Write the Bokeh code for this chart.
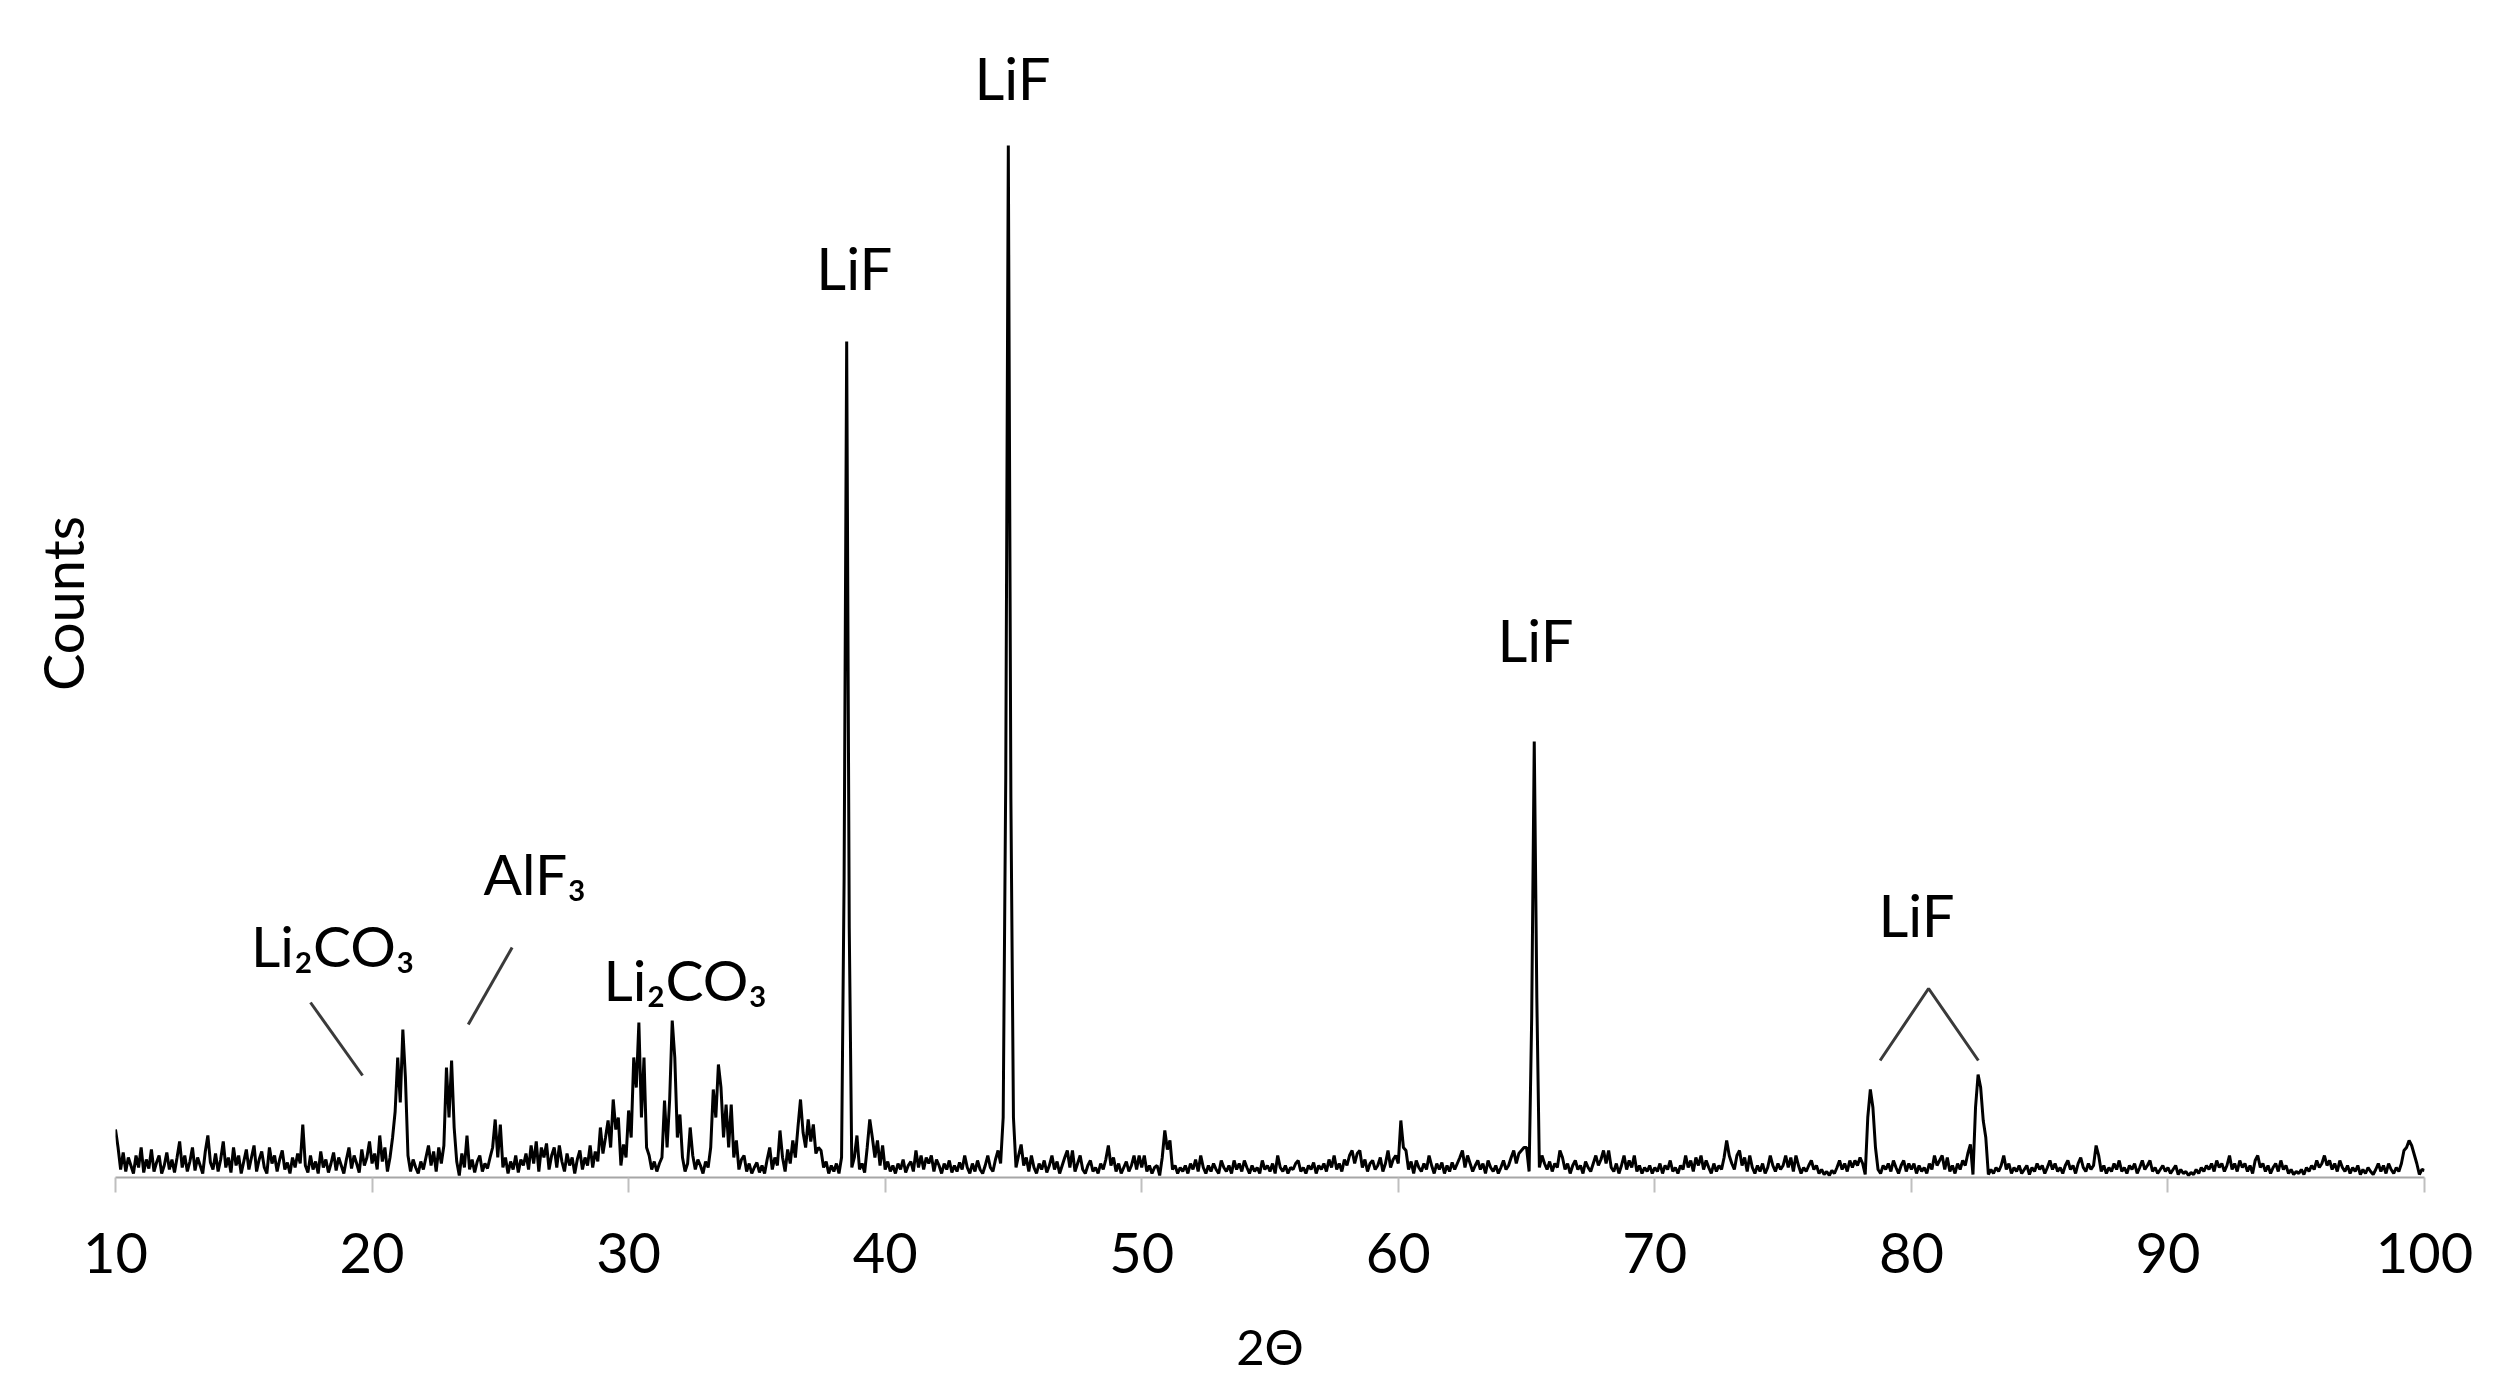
from bokeh.plotting import figure
from bokeh.models import FixedTicker
from bokeh.core.properties import value
from bokeh.embed import file_html
from bokeh.resources import INLINE

# ---- data: XRD pattern, 2-theta from 10.0 to 100.0 in steps of 0.1 deg ----
TWO_THETA_START = 10.0
TWO_THETA_STEP = 0.1

counts_10 = [48, 30, 8, 25, 6, 20, 12, 4, 22, 10,
             30, 5, 18, 9, 28, 6, 15, 22, 4, 12,
             25, 8, 18, 5, 20, 36, 10, 22, 6, 16,
             30, 7, 20, 12, 4, 26, 42, 15, 8, 24,
             6, 18, 36, 10, 20, 5, 30, 12, 22, 4,
             16, 28, 8, 20, 32, 6, 18, 26, 10, 4,
             30, 14, 22, 6, 18, 27, 8, 15, 4, 20,
             10, 24, 14, 53, 12, 5, 22, 8, 16, 4,
             26, 10, 18, 5, 14, 25, 7, 20, 12, 4,
             18, 30, 9, 22, 14, 5, 28, 12, 20, 36]
counts_20 = [14, 24, 8, 42, 16, 30, 6, 20, 40, 66,
             120, 75, 148, 100, 22, 6, 18, 10, 4, 16,
             8, 20, 32, 12, 26, 6, 30, 14, 32, 110,
             60, 117, 50, 16, 2, 24, 10, 42, 8, 18,
             5, 16, 22, 6, 14, 9, 20, 30, 58, 20,
             53, 10, 20, 4, 16, 8, 22, 5, 18, 12,
             24, 8, 32, 14, 36, 6, 30, 20, 34, 8,
             22, 30, 10, 32, 16, 6, 24, 12, 20, 4,
             18, 27, 8, 20, 12, 32, 10, 26, 16, 50,
             24, 40, 57, 30, 78, 48, 60, 12, 33, 20]
counts_30 = [67, 40, 120, 90, 155, 60, 120, 30, 22, 8,
             16, 6, 14, 20, 77, 30, 78, 157, 120, 40,
             63, 20, 6, 14, 50, 22, 8, 18, 12, 4,
             16, 10, 30, 88, 60, 113, 90, 40, 73, 30,
             73, 20, 37, 8, 18, 22, 6, 14, 4, 10,
             15, 5, 12, 4, 18, 30, 8, 20, 12, 47,
             20, 6, 28, 14, 37, 20, 50, 78, 45, 30,
             58, 36, 53, 24, 30, 27, 10, 16, 4, 12,
             6, 14, 4, 20, 300, 836, 250, 10, 20, 42,
             8, 14, 5, 30, 58, 40, 20, 37, 12, 32]
counts_40 = [8, 16, 6, 12, 4, 14, 8, 18, 5, 12,
             16, 6, 27, 10, 22, 8, 20, 14, 22, 6,
             18, 12, 4, 14, 8, 17, 5, 12, 6, 15,
             8, 22, 10, 4, 14, 6, 17, 8, 4, 12,
             22, 10, 6, 18, 27, 14, 60, 400, 1032, 380,
             60, 10, 22, 33, 12, 20, 6, 22, 10, 4,
             14, 8, 17, 5, 12, 22, 8, 16, 4, 12,
             20, 27, 10, 27, 6, 14, 22, 8, 4, 12,
             17, 6, 10, 4, 14, 8, 18, 32, 12, 20,
             6, 14, 4, 10, 16, 6, 12, 22, 8, 22]
counts_50 = [10, 22, 6, 12, 4, 10, 12, 2, 20, 47,
             28, 37, 8, 12, 4, 10, 6, 12, 4, 14,
             8, 18, 6, 22, 10, 4, 12, 6, 14, 8,
             4, 17, 10, 6, 12, 4, 17, 8, 14, 6,
             17, 10, 4, 12, 6, 10, 4, 17, 8, 12,
             6, 14, 4, 22, 10, 6, 12, 4, 10, 8,
             14, 17, 6, 10, 4, 12, 8, 15, 4, 12,
             8, 14, 6, 18, 10, 22, 8, 14, 6, 18,
             12, 22, 27, 14, 24, 27, 10, 18, 6, 14,
             17, 8, 12, 20, 6, 14, 27, 10, 18, 22]
counts_60 = [14, 57, 30, 27, 8, 16, 4, 17, 10, 6,
             14, 8, 22, 12, 4, 14, 8, 15, 4, 12,
             6, 15, 8, 14, 20, 27, 10, 22, 14, 6,
             12, 17, 8, 14, 4, 17, 10, 6, 12, 4,
             10, 17, 8, 12, 20, 27, 14, 24, 27, 30,
             30, 6, 160, 436, 180, 10, 22, 14, 8, 16,
             6, 14, 10, 27, 20, 8, 14, 4, 12, 17,
             8, 12, 4, 16, 10, 6, 14, 22, 12, 18,
             27, 14, 27, 10, 6, 14, 4, 12, 22, 8,
             17, 10, 22, 6, 12, 4, 10, 6, 12, 4]
counts_70 = [10, 6, 14, 4, 12, 8, 17, 6, 10, 4,
             12, 8, 22, 10, 17, 6, 20, 12, 22, 8,
             17, 10, 4, 14, 6, 12, 8, 20, 37, 22,
             14, 8, 22, 27, 12, 20, 6, 22, 10, 4,
             12, 6, 14, 4, 10, 22, 12, 6, 14, 8,
             12, 22, 10, 20, 6, 22, 12, 4, 10, 6,
             12, 17, 8, 12, 4, 8, 3, 6, 2, 7,
             4, 10, 17, 8, 14, 6, 17, 10, 17, 12,
             20, 14, 3, 60, 88, 70, 30, 8, 4, 12,
             8, 14, 6, 17, 10, 4, 12, 17, 6, 14]
counts_80 = [8, 14, 4, 12, 6, 10, 4, 14, 8, 22,
             12, 17, 22, 8, 20, 6, 12, 4, 14, 8,
             17, 12, 24, 33, 3, 70, 103, 90, 57, 40,
             3, 8, 4, 10, 6, 12, 22, 8, 14, 4,
             10, 6, 12, 4, 8, 12, 3, 10, 6, 14,
             8, 12, 4, 10, 17, 8, 14, 6, 10, 4,
             12, 17, 8, 12, 4, 14, 20, 10, 6, 14,
             8, 12, 32, 22, 6, 12, 4, 10, 6, 14,
             8, 17, 6, 10, 4, 12, 8, 14, 4, 10,
             17, 8, 12, 17, 6, 10, 4, 8, 12, 6]
counts_90 = [10, 4, 8, 12, 3, 8, 4, 6, 2, 5,
             3, 8, 4, 10, 6, 12, 8, 14, 6, 17,
             10, 14, 6, 12, 22, 8, 14, 6, 17, 10,
             14, 6, 12, 4, 17, 22, 10, 14, 6, 12,
             4, 10, 14, 6, 17, 8, 12, 4, 8, 3,
             6, 4, 8, 3, 10, 6, 12, 8, 17, 10,
             14, 22, 12, 17, 8, 14, 6, 17, 10, 6,
             12, 4, 10, 6, 12, 3, 8, 4, 10, 6,
             3, 8, 14, 6, 12, 4, 14, 8, 4, 10,
             6, 14, 27, 30, 37, 32, 23, 14, 3, 8]
counts_100 = [7]

# ---- annotations ----
lif_x = [38.80, 44.96, 65.35, 80.20]
lif_y = [910, 1100, 538, 263]
lif_text = ["LiF", "LiF", "LiF", "LiF"]

phase_x = [15.28, 24.34, 29.02]
phase_y = [233, 305, 199]
phase_text = ["Li\u2082CO\u2083", "AlF\u2083", "Li\u2082CO\u2083"]

leader_xs = [[17.60, 19.63], [25.46, 23.75], [78.78, 80.67, 82.61]]
leader_ys = [[175, 102], [230, 153], [117, 189, 117]]

x_ticks = [10, 20, 30, 40, 50, 60, 70, 80, 90, 100]

counts = (counts_10 + counts_20 + counts_30 + counts_40 + counts_50 +
          counts_60 + counts_70 + counts_80 + counts_90 + counts_100)
two_theta = [round(TWO_THETA_START + TWO_THETA_STEP * i, 1) for i in range(len(counts))]

FONT = "Lato"

p = figure(width=2490, height=1382, x_range=(10, 100), y_range=(0, 1148),
           output_backend="svg", toolbar_location=None,
           min_border_left=115, min_border_right=66,
           min_border_top=29, min_border_bottom=205)
p.background_fill_color = "white"
p.border_fill_color = "white"
p.outline_line_color = None
p.xgrid.visible = False
p.ygrid.visible = False

p.line(two_theta, counts, line_color="black", line_width=3)

p.multi_line(leader_xs, leader_ys, line_color="#3a3a3a", line_width=3)

p.text(x=lif_x, y=lif_y, text=lif_text, text_font=value(FONT),
       text_font_size="58px", text_align="center", text_baseline="alphabetic",
       text_color="black")
p.text(x=phase_x, y=phase_y, text=phase_text, text_font=value(FONT),
       text_font_size="57px", text_align="left", text_baseline="alphabetic",
       text_color="black")

xa = p.xaxis[0]
xa.ticker = FixedTicker(ticks=x_ticks)
xa.minor_tick_line_color = None
xa.axis_line_color = "#a6a6a6"
xa.axis_line_width = 2
xa.major_tick_line_color = "#bfbfbf"
xa.major_tick_line_width = 2
xa.major_tick_out = 15
xa.major_tick_in = 0
xa.major_label_standoff = 40
xa.major_label_text_font = FONT
xa.major_label_text_font_size = "56px"
xa.major_label_text_color = "black"
xa.axis_label = "2\u0398"
xa.axis_label_text_font = FONT
xa.axis_label_text_font_size = "49px"
xa.axis_label_text_font_style = "normal"
xa.axis_label_text_color = "black"
xa.axis_label_standoff = 41

ya = p.yaxis[0]
ya.ticker = FixedTicker(ticks=[])
ya.axis_line_color = None
ya.major_tick_line_color = None
ya.minor_tick_line_color = None
ya.major_tick_out = 0
ya.major_tick_in = 0
ya.axis_label = "Counts"
ya.axis_label_text_font = FONT
ya.axis_label_text_font_size = "56px"
ya.axis_label_text_font_style = "normal"
ya.axis_label_text_color = "black"
ya.axis_label_standoff = 20

open("out.html", "w").write(file_html(p, INLINE))
